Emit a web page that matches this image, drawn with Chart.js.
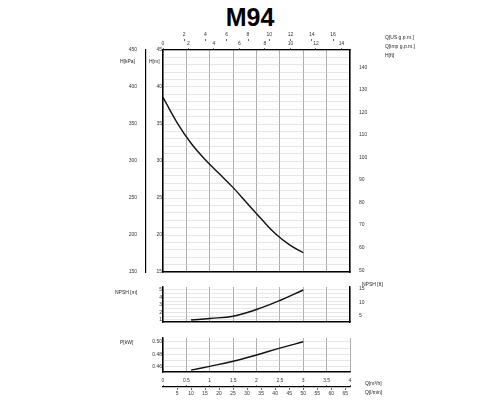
<!DOCTYPE html>
<html><head><meta charset="utf-8">
<script src="https://cdn.jsdelivr.net/npm/chart.js@4"></script>
<style>
body{margin:0;background:#fff;font-family:"Liberation Sans",Arial,sans-serif}
#title{position:absolute;left:0;width:500px;top:3px;text-align:center;font-weight:bold;font-size:25px}
.c{position:absolute;left:0;width:500px}
.lb{position:absolute;font-size:5px;color:#222;white-space:nowrap}
</style></head><body>
<div id="title">M94</div>
<div class="c" style="top:25px;height:255px"><canvas id="head"></canvas></div>
<div class="c" style="top:280px;height:50px"><canvas id="npsh"></canvas></div>
<div class="c" style="top:330px;height:46px"><canvas id="power"></canvas></div>
<div class="c" style="top:370px;height:30px"><canvas id="flow"></canvas></div>
<div class="lb" style="left:385px;top:34px">Q[US g.p.m.]</div>
<div class="lb" style="left:385px;top:43px">Q[imp g.p.m.]</div>
<div class="lb" style="left:385px;top:52px">H[ft]</div>
<div class="lb" style="left:120px;top:58px">H[kPa]</div>
<div class="lb" style="left:149px;top:58px">H[m]</div>
<div class="lb" style="left:115px;top:289px">NPSH [m]</div>
<div class="lb" style="left:362px;top:281px">NPSH [ft]</div>
<div class="lb" style="left:120px;top:339px">P[kW]</div>
<div class="lb" style="left:365px;top:380px">Q[m³/h]</div>
<div class="lb" style="left:365px;top:389px">Q[l/min]</div>
<script>
// flow in m3/h
const flowH = [0, 0.3, 0.6, 0.9, 1.2, 1.5, 1.8, 2.1, 2.4, 2.7, 3.0];
const headM = [38.6, 35.2, 32.4, 30.2, 28.3, 26.4, 24.3, 22.2, 20.2, 18.7, 17.6];
const flowN = [0.6, 1.0, 1.5, 2.0, 2.5, 3.0];
const npshM = [1.0, 1.2, 1.5, 2.4, 3.6, 5.0];
const flowP = [0.6, 1.0, 1.5, 2.0, 2.5, 3.0];
const powerKw = [0.455, 0.461, 0.469, 0.479, 0.490, 0.500];
const powerTicks = [0.46, 0.48, 0.50];
const npshFtTicks = [5, 10, 15];
const usgTicks = [2, 4, 6, 8, 10, 12, 14, 16];
const impTicks = [0, 2, 4, 6, 8, 10, 12, 14];
const m3Ticks = [0, 0.5, 1, 1.5, 2, 2.5, 3, 3.5, 4];
const lminTicks = [5, 10, 15, 20, 25, 30, 35, 40, 45, 50, 55, 60, 65];
const ftTicks = [50, 60, 70, 80, 90, 100, 110, 120, 130, 140];

const pts = (xs, ys) => xs.map((x, i) => ({x, y: ys[i]}));
const tk = () => ({font: {size: 5}, color: '#333', padding: 1, autoSkip: false, maxRotation: 0});
const line = {borderColor: '#111', borderWidth: 1.4, pointRadius: 0, tension: 0.4, fill: false, xAxisID: 'x', yAxisID: 'y'};
const bord = {color: '#000', width: 1.4};
const tickOnly = {display: true, drawOnChartArea: false, tickLength: 2, color: '#000', lineWidth: 0.6};
const base = {responsive: true, maintainAspectRatio: false, animation: false,
  plugins: {legend: {display: false}, tooltip: {enabled: false}}};
const fixW = w => s => { s.width = w; };
const fixH = h => s => { s.height = h; };
const setTicks = arr => s => { s.ticks = arr.map(v => ({value: v})); };

function xGrid() {
  return {type: 'linear', min: 0, max: 4, afterFit: fixH(0),
    ticks: {display: false, stepSize: 0.5}, grid: {color: '#777', lineWidth: 0.6, drawTicks: false}, border: bord};
}
function yGrid(extra) {
  return Object.assign({type: 'linear', position: 'left', afterFit: fixW(17),
    grid: {color: '#ccc', lineWidth: 0.5, drawTicks: false}, border: bord}, extra);
}
function hAxis(pos, weight, min, max, ticks, h, showBorder) {
  return {type: 'linear', position: pos, weight: weight, min: min, max: max, afterFit: fixH(h),
    afterBuildTicks: setTicks(ticks), ticks: Object.assign(tk(), {callback: v => String(v)}), grid: tickOnly,
    border: showBorder ? {color: '#000', width: 1.2} : {display: false}};
}

new Chart(document.getElementById('head'), {
  type: 'line',
  data: {datasets: [Object.assign({data: pts(flowH, headM)}, line)]},
  options: Object.assign({}, base, {
    layout: {padding: {left: 100, right: 120, top: 7, bottom: 8}},
    scales: {
      x: xGrid(),
      usg: hAxis('top', 2, 0, 17.6, usgTicks, 9, false),
      imp: hAxis('top', 1, 0, 14.67, impTicks, 9, true),
      kpa: {type: 'linear', position: 'left', weight: 2, min: 150, max: 450, afterFit: fixW(46),
        ticks: Object.assign(tk(), {stepSize: 50}), grid: {display: false}, border: {color: '#000', width: 1.2}},
      y: yGrid({weight: 1, min: 15, max: 45,
        ticks: Object.assign(tk(), {stepSize: 1, callback: v => v % 5 === 0 ? v : ''})}),
      ft: {type: 'linear', position: 'right', min: 49.2, max: 147.6, afterFit: fixW(30),
        afterBuildTicks: setTicks(ftTicks), ticks: tk(), grid: {display: false}, border: bord}
    }
  })
});

new Chart(document.getElementById('npsh'), {
  type: 'line',
  data: {datasets: [Object.assign({data: pts(flowN, npshM)}, line)]},
  options: Object.assign({}, base, {
    layout: {padding: {left: 146, right: 120, top: 7, bottom: 8}},
    scales: {
      x: xGrid(),
      y: yGrid({min: 0.73, max: 5.4,
        afterBuildTicks: setTicks([1, 1.5, 2, 2.5, 3, 3.5, 4, 4.5, 5]),
        ticks: Object.assign(tk(), {callback: v => Number.isInteger(v) ? v : ''})}),
      ft: {type: 'linear', position: 'right', min: 2.8, max: 15.7, afterFit: fixW(30),
        afterBuildTicks: setTicks(npshFtTicks), ticks: tk(), grid: {display: false}, border: bord}
    }
  })
});

new Chart(document.getElementById('power'), {
  type: 'line',
  data: {datasets: [Object.assign({data: pts(flowP, powerKw)}, line)]},
  options: Object.assign({}, base, {
    layout: {padding: {left: 146, right: 150, top: 8, bottom: 3}},
    scales: {
      x: xGrid(),
      y: yGrid({min: 0.452, max: 0.506,
        afterBuildTicks: setTicks([0.46, 0.47, 0.48, 0.49, 0.5]),
        ticks: Object.assign(tk(), {callback: v => powerTicks.includes(v) ? v.toFixed(2) : ''})})
    }
  })
});

new Chart(document.getElementById('flow'), {
  type: 'line',
  data: {datasets: []},
  options: Object.assign({}, base, {
    layout: {padding: {left: 163, right: 150, top: 6, bottom: 0}},
    scales: {
      m3: hAxis('top', 1, 0, 4, m3Ticks, 11, true),
      lmin: hAxis('bottom', 1, 0, 66.7, lminTicks, 12, false),
      y: {display: false, min: 0, max: 1}
    }
  })
});
</script>
</body></html>
